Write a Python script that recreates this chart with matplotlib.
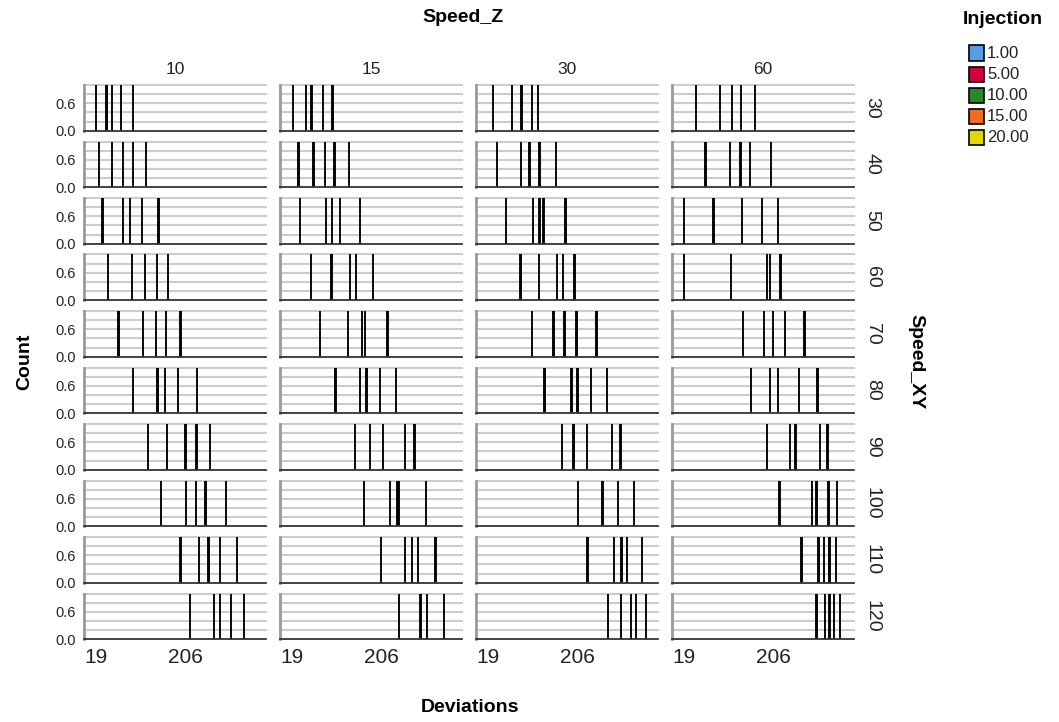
import matplotlib
matplotlib.use("Agg")
import matplotlib.pyplot as plt
from matplotlib.patches import Rectangle

plt.rcParams['font.family'] = ['Liberation Sans', 'DejaVu Sans']

speed_z = [10, 15, 30, 60]
speed_xy = [30, 40, 50, 60, 70, 80, 90, 100, 110, 120]
injection = ["1.00", "5.00", "10.00", "15.00", "20.00"]
inj_colors = ["#5a9be6", "#d2003c", "#2a882a", "#f06a28", "#e2d800"]
x_ticks = [19, 206]
y_ticks = [0.0, 0.6]

# Deviations per Speed_XY row (one value per injection level), for each Speed_Z
dev_z10 = [
    [19, 41, 53, 72, 96],
    [25, 53, 75, 96, 124],
    [33, 75, 91, 115, 150],
    [44, 94, 122, 146, 169],
    [66, 117, 144, 165, 196],
    [97, 148, 164, 190, 230],
    [128, 167, 206, 229, 257],
    [155, 208, 228, 248, 291],
    [196, 235, 254, 279, 314],
    [215, 266, 278, 301, 329],
]
dev_z15 = [
    [22, 49, 60, 84, 104],
    [33, 64, 88, 108, 139],
    [36, 91, 103, 119, 162],
    [59, 102, 141, 153, 188],
    [78, 136, 165, 172, 219],
    [110, 162, 175, 203, 237],
    [151, 182, 210, 256, 275],
    [170, 224, 238, 242, 299],
    [205, 255, 270, 282, 319],
    [243, 286, 289, 301, 337],
]
dev_z30 = [
    [29, 69, 89, 111, 124],
    [38, 88, 106, 127, 162],
    [57, 114, 127, 135, 181],
    [87, 126, 164, 176, 200],
    [111, 156, 179, 204, 246],
    [137, 194, 206, 234, 268],
    [174, 198, 226, 279, 296],
    [208, 257, 260, 291, 325],
    [227, 282, 298, 310, 341],
    [270, 297, 318, 329, 349],
]
dev_z60 = [
    [45, 95, 120, 139, 167],
    [64, 115, 137, 157, 201],
    [19, 81, 141, 182, 215],
    [19, 118, 193, 199, 221],
    [143, 186, 205, 230, 271],
    [159, 199, 215, 259, 298],
    [193, 240, 252, 304, 319],
    [219, 286, 296, 321, 339],
    [265, 300, 312, 323, 337],
    [296, 314, 323, 333, 345],
]
counts = [1, 1, 1, 1, 1]

devs = [dev_z10, dev_z15, dev_z30, dev_z60]

W, H = 1059, 722
fig = plt.figure(figsize=(W / 100, H / 100), dpi=100)

col_left = [84, 280, 476, 672]
panel_w = 182
row_top0 = 85
row_pitch = 56.5
panel_h = 45.7
xlim = (-5.8, 374.4)

grid_col = "#cccccc"
for c, zc in enumerate(speed_z):
    for r, xy in enumerate(speed_xy):
        top = row_top0 + r * row_pitch
        ax = fig.add_axes([col_left[c] / W, 1 - (top + panel_h) / H,
                           panel_w / W, panel_h / H])
        ax.set_xlim(*xlim)
        ax.set_ylim(0, 1.0)
        for gy in [0.2, 0.4, 0.6, 0.8, 1.0]:
            ax.axhline(gy, color=grid_col, lw=1.5, zorder=0, clip_on=False)
        vals = devs[c][r]
        ax.bar(vals, counts, width=0.6, color=inj_colors[:len(vals)],
               edgecolor="black", linewidth=1.35, zorder=2)
        for s in ["top", "right"]:
            ax.spines[s].set_visible(False)
        ax.spines["left"].set_color("#9a9a9a")
        ax.spines["left"].set_linewidth(2)
        ax.spines["bottom"].set_color("#333333")
        ax.spines["bottom"].set_linewidth(1.3)
        ax.tick_params(length=0)
        ax.set_yticks(y_ticks)
        if c == 0:
            ax.set_yticklabels([f"{v:.1f}" for v in y_ticks], fontsize=10.5,
                               color="#222222")
        else:
            ax.set_yticklabels([])
        ax.tick_params(axis="y", pad=6)
        ax.set_xticks(x_ticks)
        if r == len(speed_xy) - 1:
            ax.set_xticklabels([str(v) for v in x_ticks], fontsize=15,
                               color="#222222")
            ax.tick_params(axis="x", pad=6)
        else:
            ax.set_xticklabels([])
        if r == 0:
            ax.set_title(str(zc), fontsize=12.5, pad=8, color="#222222")
        if c == len(speed_z) - 1:
            ax.text(1.1, 0.5, str(xy), transform=ax.transAxes, rotation=-90,
                    ha="center", va="center", fontsize=14, color="#222222")

# Facet / axis titles
fig.text(463 / W, 1 - 18 / H, "Speed_Z", ha="center", va="center",
         fontsize=14, fontweight="bold")
fig.text(916 / W, 1 - 362 / H, "Speed_XY", ha="center", va="center",
         fontsize=14, fontweight="bold", rotation=-90)
fig.text(25 / W, 1 - 362 / H, "Count", ha="center", va="center",
         fontsize=14, fontweight="bold", rotation=90)
fig.text(470 / W, 1 - 708 / H, "Deviations", ha="center", va="center",
         fontsize=14, fontweight="bold")

# Legend
fig.text(1003 / W, 1 - 20 / H, "Injection", ha="center", va="center",
         fontsize=14, fontweight="bold")
for i, (lab, col) in enumerate(zip(injection, inj_colors)):
    yc = 53 + i * 21.2
    fig.patches.append(Rectangle((969 / W, 1 - (yc + 7.5) / H), 15 / W, 15 / H,
                                 transform=fig.transFigure, facecolor=col,
                                 edgecolor="black", linewidth=1.2))
    fig.text(987 / W, 1 - yc / H, lab, ha="left", va="center", fontsize=12,
             color="#222222")

fig.savefig("out.png", dpi=100)
